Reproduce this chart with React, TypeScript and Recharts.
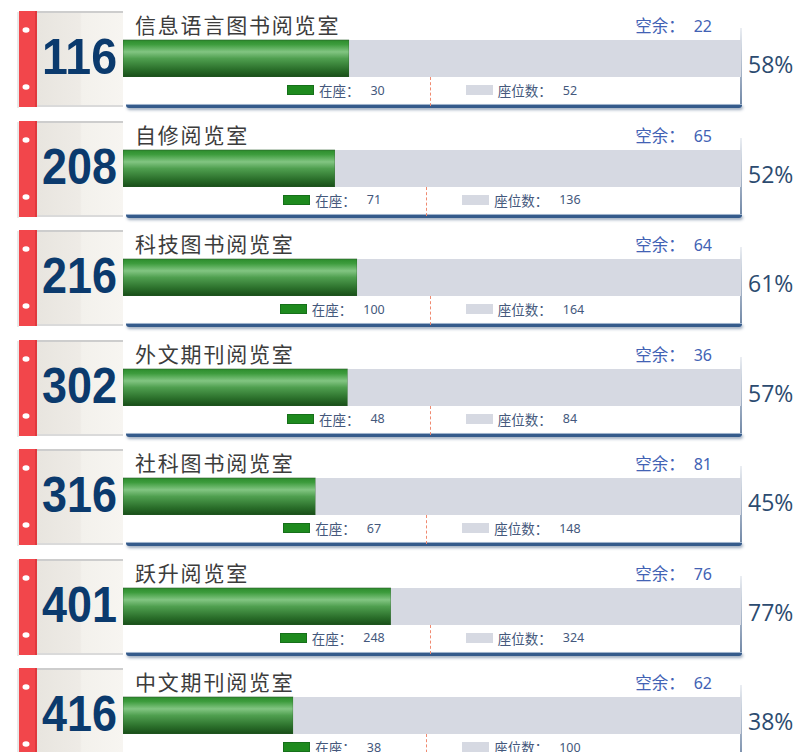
import { BarChart, Bar, XAxis, YAxis } from "recharts";

const rooms = ["116", "208", "216", "302", "316", "401", "416"];
const roomNames = [
  "信息语言图书阅览室",
  "自修阅览室",
  "科技图书阅览室",
  "外文期刊阅览室",
  "社科图书阅览室",
  "跃升阅览室",
  "中文期刊阅览室",
];
const occupied = [30, 71, 100, 48, 67, 248, 38];
const seats = [52, 136, 164, 84, 148, 324, 100];

const CARD_TOP = 10;
const CARD_STEP = 109.5;
const CJK = "'Noto Sans CJK SC', 'Noto Sans', sans-serif";

function RoomCard({ i }: { i: number }) {
  const top = CARD_TOP + i * CARD_STEP;
  const free = seats[i] - occupied[i];
  const pct = Math.round((occupied[i] / seats[i]) * 100);
  const data = [{ name: roomNames[i], occupied: occupied[i], seats: seats[i] }];

  return (
    <div style={{ position: "absolute", left: 0, top, width: 795, height: 110 }}>
      {/* left tab with room number */}
      <svg width={124} height={100} style={{ position: "absolute", left: 0, top: 0 }}>
        <defs>
          <linearGradient id={`panel${i}`} x1="0" x2="1" y1="0" y2="0">
            <stop offset="0" stopColor="#e8e5df" />
            <stop offset="0.5" stopColor="#eeebe6" />
            <stop offset="0.52" stopColor="#f3f1ec" />
            <stop offset="1" stopColor="#f7f5f1" />
          </linearGradient>
        </defs>
        <rect x={37} y={1} width={86} height={96} fill={`url(#panel${i})`} />
        <rect x={37} y={1} width={86} height={2} fill="#cdcdcd" />
        <rect x={37} y={95} width={86} height={2} fill="#dadada" />
        <rect x={17} y={2} width={2} height={96} fill="#e9e9e9" />
        <rect x={19} y={1} width={18} height={96} fill="#f2464b" />
        <rect x={35} y={1} width={2} height={96} fill="#e0383d" />
        <ellipse cx={26} cy={20} rx={3.5} ry={2.8} fill="#fff" />
        <ellipse cx={26} cy={77} rx={3.5} ry={2.8} fill="#fff" />
        <text
          x={42}
          y={64}
          textLength={75}
          lengthAdjust="spacingAndGlyphs"
          fontFamily="'Liberation Sans', Arial, sans-serif"
          fontWeight="bold"
          fontSize={50}
          fill="#0b3a6d"
        >
          {rooms[i]}
        </text>
      </svg>

      {/* plot frame: right edge and bottom shadow */}
      <div
        style={{
          position: "absolute",
          left: 740,
          top: 18,
          width: 2,
          height: 78,
          background: "linear-gradient(to bottom, rgba(120,140,170,0.15), #6f86a5)",
        }}
      />
      <div
        style={{
          position: "absolute",
          left: 126,
          top: 94,
          width: 616,
          height: 3,
          background: "#355b8b",
          borderTop: "1px solid #9fb3cc",
          borderRadius: "0 0 3px 3px",
          boxShadow: "1px 2px 3px rgba(40,70,110,0.45)",
        }}
      />

      <div
        style={{
          position: "absolute",
          left: 135,
          top: 2,
          fontFamily: CJK,
          fontSize: 21,
          lineHeight: "25px",
          letterSpacing: 1.8,
          color: "#3c3c3c",
          whiteSpace: "nowrap",
        }}
      >
        {roomNames[i]}
      </div>

      <div
        style={{
          position: "absolute",
          right: 795 - 712,
          top: 4,
          fontFamily: CJK,
          fontSize: 16.5,
          lineHeight: "22px",
          color: "#4262b4",
          whiteSpace: "nowrap",
        }}
      >
        空余：<span style={{ marginLeft: 9, fontFamily: "'Noto Sans', sans-serif", fontSize: 16 }}>{free}</span>
      </div>

      <div style={{ position: "absolute", left: 123, top: 29 }}>
        <BarChart
          width={618}
          height={38}
          data={data}
          layout="vertical"
          margin={{ top: 0, right: 0, bottom: 0, left: 0 }}
          barCategoryGap={0}
        >
          <defs>
            <linearGradient id={`green${i}`} x1="0" x2="0" y1="0" y2="1">
              <stop offset="0" stopColor="#2c8c2c" />
              <stop offset="0.12" stopColor="#3d9c3d" />
              <stop offset="0.32" stopColor="#82c582" />
              <stop offset="0.5" stopColor="#4f9f4f" />
              <stop offset="0.8" stopColor="#2a6e2a" />
              <stop offset="1" stopColor="#184d18" />
            </linearGradient>
          </defs>
          <XAxis type="number" hide domain={[0, "dataMax"]} />
          <YAxis type="category" dataKey="name" hide />
          <Bar
            dataKey="occupied"
            stackId="s"
            fill={`url(#green${i})`}
            stroke="#2c5e2c"
            strokeWidth={0.6}
            barSize={37}
            isAnimationActive={false}
          />
          <Bar dataKey="seats" stackId="s" fill="#d6d9e2" barSize={37} isAnimationActive={false} />
        </BarChart>
      </div>

      <div
        style={{
          position: "absolute",
          left: 748,
          top: 39,
          fontFamily: "'Open Sans', 'Noto Sans', sans-serif",
          fontSize: 23,
          lineHeight: "30px",
          color: "#2c4b70",
        }}
      >
        {pct}%
      </div>

      {/* legend */}
      <div
        style={{
          position: "absolute",
          left: 123,
          top: 72,
          width: 618,
          height: 16,
          display: "flex",
          justifyContent: "center",
          alignItems: "center",
          fontFamily: CJK,
          color: "#44587c",
          whiteSpace: "nowrap",
        }}
      >
        <span style={{ width: 27, height: 10, background: "#1e8a1e", border: "1px solid #16701a", boxSizing: "border-box" }} />
        <span style={{ marginLeft: 5, fontSize: 13.5 }}>在座：</span>
        <span style={{ marginLeft: 11, fontSize: 12.5, fontFamily: "'Noto Sans', sans-serif" }}>{occupied[i]}</span>
        <span style={{ position: "relative", width: 81, height: 16 }}>
          <span
            style={{
              position: "absolute",
              left: 45,
              top: -5,
              height: 29,
              borderLeft: "1px dashed #f08a70",
            }}
          />
        </span>
        <span style={{ width: 27, height: 10, background: "#d6d9e2" }} />
        <span style={{ marginLeft: 5, fontSize: 13.5 }}>座位数：</span>
        <span style={{ marginLeft: 11, fontSize: 12.5, fontFamily: "'Noto Sans', sans-serif" }}>{seats[i]}</span>
      </div>
    </div>
  );
}

export default function App() {
  return (
    <div
      style={{
        position: "absolute",
        left: 0,
        top: 0,
        width: 795,
        height: 752,
        overflow: "hidden",
        background: "#fff",
      }}
    >
      {rooms.map((r, i) => (
        <RoomCard key={r} i={i} />
      ))}
    </div>
  );
}
